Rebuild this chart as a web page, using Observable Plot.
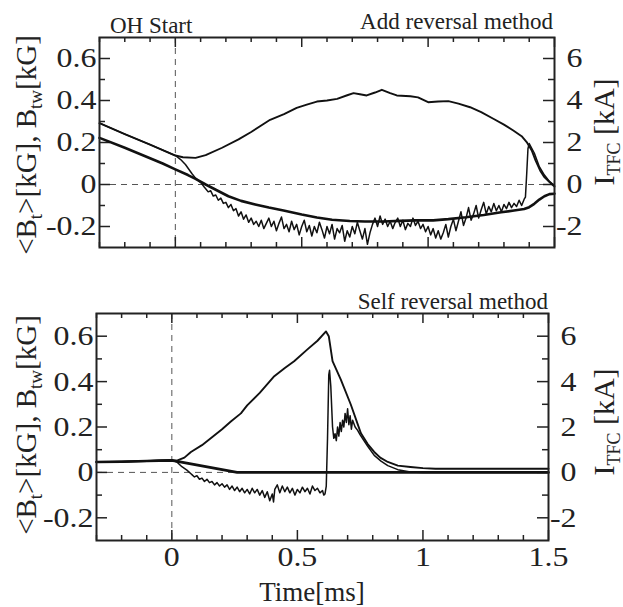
<!DOCTYPE html>
<html>
<head>
<meta charset="utf-8">
<script src="https://cdn.jsdelivr.net/npm/d3@7"></script>
<script src="https://cdn.jsdelivr.net/npm/@observablehq/plot@0.6"></script>
<style>
  html, body { margin: 0; padding: 0; background: #fff; }
  #wrap { position: relative; width: 623px; height: 607px; overflow: hidden; background: #fff; }
  #wrap > svg { position: absolute; left: 0; }
  #overlay { position: absolute; left: 0; top: 0; pointer-events: none; }
  text { font-family: "Liberation Serif", "DejaVu Serif", serif; }
</style>
</head>
<body>
<div id="wrap"></div>
<script>
// ---------------- DATA ----------------
// time axis [ms]
const timeDomain = [-0.3, 1.5];
const bDomain = [-0.3, 0.7];           // kG (left axis)
const xTickValues = [-0.3,-0.2,-0.1,0,0.1,0.2,0.3,0.4,0.5,0.6,0.7,0.8,0.9,1.0,1.1,1.2,1.3,1.4,1.5];
const xMajorTicks = [0, 0.5, 1, 1.5];
const xTickLabels = [0, 0.5, 1, 1.5];
const bTickValues = [-0.2,-0.1,0,0.1,0.2,0.3,0.4,0.5,0.6];
const bTickLabels = [-0.2, 0, 0.2, 0.4, 0.6];
const itfcTickLabels = [-2, 0, 2, 4, 6];   // kA (right axis)
const itfcPerKG = 10;                      // 1 kG on left axis = 10 kA on right axis

// Panel 1: Add reversal method  [time ms, value]
const addItfc = [ // kA
  [-0.3,2.92],[-0.2,2.4],[-0.1,1.9],[0,1.38],[0.03,1.3],[0.08,1.27],[0.12,1.4],[0.185,1.75],
  [0.25,2.15],[0.3,2.5],[0.375,3.08],[0.43,3.35],[0.48,3.65],[0.52,3.8],[0.56,3.95],[0.6,4.0],
  [0.64,4.08],[0.68,4.25],[0.705,4.35],[0.73,4.3],[0.757,4.24],[0.79,4.38],[0.817,4.51],[0.85,4.35],
  [0.876,4.24],[0.93,4.2],[0.96,4.15],[1.0,3.92],[1.04,3.95],[1.08,3.97],[1.12,3.85],[1.166,3.68],
  [1.21,3.45],[1.258,3.13],[1.3,2.85],[1.337,2.57],[1.37,2.3],[1.39,2.02],[1.41,1.62],[1.425,1.15],
  [1.443,0.67],[1.46,0.35],[1.48,0.12],[1.5,-0.1]
];
const addBt = [ // kG
  [-0.3,0.222],[-0.2,0.175],[-0.1,0.125],[-0.05,0.1],[0,0.072],[0.05,0.045],[0.08,0.027],[0.12,0.0],
  [0.16,-0.025],[0.21,-0.056],[0.26,-0.078],[0.316,-0.095],[0.37,-0.11],[0.428,-0.124],[0.5,-0.143],
  [0.56,-0.157],[0.62,-0.168],[0.69,-0.174],[0.75,-0.176],[0.823,-0.176],[0.89,-0.173],[0.95,-0.171],
  [1.02,-0.171],[1.08,-0.165],[1.15,-0.156],[1.22,-0.145],[1.289,-0.132],[1.34,-0.124],[1.38,-0.117],
  [1.40,-0.108],[1.42,-0.092],[1.44,-0.072],[1.46,-0.056],[1.48,-0.046],[1.5,-0.044]
];
const addBtw = [ // kG
  [-0.3,0.292],[-0.2,0.24],[-0.1,0.19],[0,0.138],[0.02,0.12],[0.04,0.095],[0.066,0.051],[0.08,0.03],
  [0.1,0.01],[0.115,-0.013],
  [0.12,-0.02],[0.13,-0.035],[0.14,-0.03],[0.15,-0.055],[0.16,-0.05],[0.17,-0.075],[0.18,-0.065],
  [0.19,-0.09],[0.20,-0.085],[0.21,-0.11],[0.22,-0.095],[0.23,-0.125],[0.24,-0.115],[0.25,-0.15],
  [0.26,-0.13],[0.27,-0.165],[0.28,-0.145],[0.29,-0.18],[0.30,-0.16],[0.31,-0.19],[0.32,-0.175],
  [0.33,-0.2],[0.34,-0.17],[0.35,-0.21],[0.36,-0.185],[0.37,-0.16],[0.38,-0.2],[0.39,-0.175],
  [0.40,-0.22],[0.41,-0.185],[0.42,-0.155],[0.43,-0.21],[0.44,-0.19],[0.45,-0.225],[0.46,-0.175],
  [0.47,-0.215],[0.48,-0.19],[0.49,-0.24],[0.50,-0.2],[0.51,-0.17],[0.52,-0.225],[0.53,-0.195],
  [0.54,-0.245],[0.55,-0.2],[0.56,-0.23],[0.57,-0.18],[0.58,-0.215],[0.59,-0.255],[0.60,-0.2],
  [0.61,-0.235],[0.62,-0.19],[0.63,-0.26],[0.64,-0.21],[0.65,-0.23],[0.66,-0.195],[0.67,-0.27],
  [0.68,-0.22],[0.69,-0.25],[0.70,-0.2],[0.71,-0.235],[0.72,-0.18],[0.73,-0.22],[0.74,-0.26],
  [0.75,-0.21],[0.76,-0.285],[0.77,-0.23],[0.78,-0.19],[0.79,-0.16],[0.80,-0.2],[0.81,-0.15],
  [0.82,-0.19],[0.83,-0.165],[0.84,-0.2],[0.85,-0.175],[0.86,-0.21],[0.87,-0.18],[0.88,-0.16],
  [0.89,-0.2],[0.90,-0.17],[0.91,-0.215],[0.92,-0.185],[0.93,-0.2],[0.94,-0.16],[0.95,-0.195],
  [0.96,-0.175],[0.97,-0.21],[0.98,-0.19],[0.99,-0.225],[1.00,-0.2],[1.01,-0.24],[1.02,-0.21],
  [1.03,-0.255],[1.04,-0.22],[1.05,-0.26],[1.06,-0.23],[1.07,-0.19],[1.08,-0.25],[1.09,-0.2],
  [1.10,-0.165],[1.11,-0.22],[1.12,-0.175],[1.13,-0.13],[1.14,-0.195],[1.15,-0.16],[1.16,-0.11],
  [1.17,-0.17],[1.18,-0.14],[1.19,-0.1],[1.20,-0.16],[1.21,-0.12],[1.22,-0.085],[1.23,-0.14],
  [1.24,-0.105],[1.25,-0.13],[1.26,-0.09],[1.27,-0.125],[1.28,-0.1],[1.29,-0.13],[1.30,-0.095],
  [1.31,-0.115],[1.32,-0.085],[1.33,-0.11],[1.34,-0.09],[1.35,-0.105],[1.36,-0.075],[1.37,-0.1],
  [1.38,-0.07],[1.385,-0.06],[1.39,0.05],[1.395,0.17],[1.40,0.195],[1.42,0.15],[1.44,0.085],
  [1.46,0.045],[1.48,0.015],[1.5,-0.005]
];

// Panel 2: Self reversal method
const selfItfc = [ // kA
  [-0.3,0.46],[-0.2,0.47],[-0.1,0.5],[0,0.53],[0.02,0.52],[0.05,0.65],[0.076,0.9],[0.12,1.2],
  [0.155,1.5],[0.2,1.9],[0.235,2.24],[0.275,2.6],[0.3,2.95],[0.35,3.5],[0.408,4.24],[0.45,4.6],
  [0.487,4.9],[0.54,5.42],[0.58,5.8],[0.614,6.21],[0.625,6.0],[0.64,4.9],[0.673,4.09],[0.713,2.98],
  [0.753,1.72],[0.78,1.25],[0.806,0.9],[0.83,0.65],[0.86,0.46],[0.9,0.3],[0.95,0.24],[1.0,0.19],
  [1.05,0.16],[1.1,0.16],[1.5,0.16]
];
const selfBt = [ // kG
  [-0.3,0.046],[-0.2,0.047],[-0.1,0.05],[0,0.053],[0.26,0.0],[1.5,0.0]
];
const selfBtw = [ // kG
  [-0.3,0.046],[-0.2,0.048],[-0.1,0.05],[-0.05,0.053],[0,0.055],[0.02,0.046],[0.04,0.025],
  [0.06,0.01],[0.076,-0.006],[0.08,-0.01],[0.09,-0.02],[0.10,-0.015],[0.11,-0.03],[0.12,-0.025],
  [0.13,-0.04],[0.14,-0.03],[0.15,-0.045],[0.16,-0.04],[0.17,-0.055],[0.18,-0.045],[0.19,-0.06],
  [0.20,-0.05],[0.21,-0.065],[0.22,-0.055],[0.23,-0.075],[0.24,-0.06],[0.25,-0.08],[0.26,-0.065],
  [0.27,-0.085],[0.28,-0.07],[0.29,-0.09],[0.30,-0.075],[0.31,-0.095],[0.32,-0.07],[0.33,-0.09],
  [0.34,-0.075],[0.35,-0.1],[0.36,-0.08],[0.37,-0.11],[0.38,-0.085],[0.39,-0.125],[0.40,-0.095],
  [0.405,-0.13],[0.41,-0.075],[0.42,-0.055],[0.43,-0.09],[0.44,-0.06],[0.45,-0.085],[0.46,-0.065],
  [0.47,-0.09],[0.48,-0.07],[0.49,-0.1],[0.50,-0.075],[0.51,-0.09],[0.52,-0.065],[0.53,-0.085],
  [0.54,-0.07],[0.55,-0.095],[0.56,-0.06],[0.57,-0.08],[0.58,-0.07],[0.59,-0.09],[0.60,-0.08],
  [0.605,-0.1],[0.61,-0.095],[0.615,-0.06],[0.62,0.15],[0.625,0.43],[0.628,0.45],[0.633,0.38],
  [0.64,0.2],[0.645,0.15],[0.65,0.17],[0.655,0.14],[0.66,0.2],[0.665,0.16],[0.67,0.22],[0.675,0.18],
  [0.68,0.23],[0.685,0.2],[0.69,0.26],[0.695,0.22],[0.70,0.28],[0.705,0.21],[0.71,0.25],[0.715,0.19],
  [0.72,0.23],[0.73,0.2],[0.74,0.185],[0.75,0.165],[0.78,0.115],[0.806,0.075],[0.833,0.05],
  [0.86,0.03],[0.9,0.012],[0.95,0.002],[1.0,0.0],[1.5,0.0]
];

// ---------------- DRAW ----------------
const FONT = '"Liberation Serif", "DejaVu Serif", serif';
const fmt = d => (Math.abs(d) < 1e-9 ? "0" : String(+d.toFixed(2)));
const W = 623;
const STRETCH = 1.14; // reference glyphs are drawn wider than Times metrics

function stretchTexts(svg) {
  d3.select(svg).selectAll("g[aria-label$='tick label'] text").each(function () {
    const t = d3.select(this);
    const tr = t.attr("transform") || "";
    const x = +t.attr("x") || 0, y = +t.attr("y") || 0;
    t.attr("transform", `${tr} translate(${x},${y}) scale(${STRETCH},1) translate(${-x},${-y})`);
  });
}

function panel({bt, btw, itfc, top, height, mt, mb, ml, mr, xLabels}) {
  const fh = height - mt - mb, fw = W - ml - mr;
  const xMinor = xTickValues.filter(v => !xMajorTicks.some(m => Math.abs(m - v) < 1e-9));
  const yMinor = bTickValues.filter(v => !bTickLabels.some(m => Math.abs(m - v) < 1e-9));
  const tk = {stroke: "#222", strokeWidth: 1.5};
  const marks = [
    Plot.ruleY([0], {stroke: "#555", strokeWidth: 1, strokeDasharray: "6,5"}),
    Plot.ruleX([0], {stroke: "#555", strokeWidth: 1, strokeDasharray: "6,5"}),
    // inward ticks (top / bottom)
    Plot.ruleX(xMinor, {...tk, insetBottom: fh - 5}),
    Plot.ruleX(xMajorTicks, {...tk, insetBottom: fh - 10}),
    Plot.ruleX(xMinor, {...tk, insetTop: fh - 5}),
    Plot.ruleX(xMajorTicks, {...tk, insetTop: fh - 10}),
    // inward ticks (left / right)
    Plot.ruleY(yMinor, {...tk, insetRight: fw - 6}),
    Plot.ruleY(bTickLabels, {...tk, insetRight: fw - 11}),
    Plot.ruleY(yMinor, {...tk, insetLeft: fw - 6}),
    Plot.ruleY(bTickLabels, {...tk, insetLeft: fw - 11}),
    // curves
    Plot.line(bt, {x: d => d[0], y: d => d[1], stroke: "#111", strokeWidth: 2.6}),
    Plot.line(btw, {x: d => d[0], y: d => d[1], stroke: "#111", strokeWidth: 1.5}),
    Plot.line(itfc, {x: d => d[0], y: d => d[1] / itfcPerKG, stroke: "#111", strokeWidth: 1.9}),
    Plot.frame({stroke: "#222", strokeWidth: 2}),
    // tick labels
    Plot.axisY(bTickLabels, {anchor: "left", tickSize: 0, tickPadding: 3, tickFormat: fmt,
      fontSize: 28, fontFamily: FONT, fill: "#222", label: null}),
    Plot.axisY(itfcTickLabels.map(k => k / itfcPerKG), {anchor: "right", tickSize: 0, tickPadding: 28,
      textAnchor: "end", tickFormat: d => fmt(d * itfcPerKG), fontSize: 28, fontFamily: FONT, fill: "#222", label: null})
  ];
  if (xLabels) {
    marks.push(Plot.axisX(xTickLabels, {anchor: "bottom", tickSize: 0, tickPadding: 6, tickFormat: fmt,
      fontSize: 28, fontFamily: FONT, fill: "#222", label: null}));
  }
  const svg = Plot.plot({
    width: W, height,
    marginTop: mt, marginBottom: mb, marginLeft: ml, marginRight: mr,
    x: {domain: timeDomain, axis: null},
    y: {domain: bDomain, axis: null},
    style: {fontFamily: FONT, fontSize: "28px", background: "transparent", overflow: "visible", color: "#222"},
    marks
  });
  stretchTexts(svg);
  svg.style.top = top + "px";
  return svg;
}

const wrap = document.getElementById("wrap");
wrap.appendChild(panel({bt: addBt, btw: addBtw, itfc: addItfc, top: 0, height: 270,
  mt: 37, mb: 23, ml: 99, mr: 69, xLabels: false}));
wrap.appendChild(panel({bt: selfBt, btw: selfBtw, itfc: selfItfc, top: 270, height: 337,
  mt: 43, mb: 67, ml: 96, mr: 75, xLabels: true}));

// text overlay
const ov = d3.select(wrap).append("svg").attr("id", "overlay").attr("width", W).attr("height", 607);
function txt(x, y, s, size, anchor) {
  return ov.append("text").attr("transform", `translate(${x},${y})`)
    .attr("text-anchor", anchor).attr("font-size", size).attr("fill", "#222").text(s);
}
txt(110, 33, "OH Start", 23, "start");
txt(553, 29, "Add reversal method", 23, "end");
txt(548, 309, "Self reversal method", 23, "end");
txt(312, 601, "Time[ms]", 27, "middle");

function leftLabel(x, y) {
  const t = ov.append("text").attr("transform", `translate(${x},${y}) rotate(-90)`)
    .attr("text-anchor", "middle").attr("font-size", 29).attr("fill", "#222");
  t.append("tspan").text("<B");
  t.append("tspan").attr("font-size", 19).attr("dy", 6).text("t");
  t.append("tspan").attr("dy", -6).text(">[kG], B");
  t.append("tspan").attr("font-size", 19).attr("dy", 6).text("tw");
  t.append("tspan").attr("dy", -6).text("[kG]");
}
function rightLabel(x, y) {
  const t = ov.append("text").attr("transform", `translate(${x},${y}) rotate(-90)`)
    .attr("text-anchor", "middle").attr("font-size", 30).attr("fill", "#222");
  t.append("tspan").text("I");
  t.append("tspan").attr("font-size", 18).attr("dy", 6).text("TFC");
  t.append("tspan").attr("dy", -6).text(" [kA]");
}
leftLabel(36, 145);
leftLabel(36, 425);
rightLabel(614, 132);
rightLabel(614, 422);
</script>
</body>
</html>
